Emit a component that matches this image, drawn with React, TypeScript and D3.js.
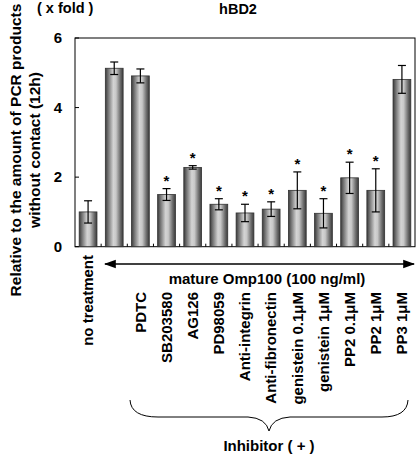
import React from "react";
import * as d3 from "d3";

const categories = [
  "no treatment", "", "PDTC", "SB203580", "AG126", "PD98059", "Anti-integrin",
  "Anti-fibronectin", "genistein 0.1μM", "genistein 1μM", "PP2 0.1μM", "PP2 1μM", "PP3 1μM",
];
const values = [1.0, 5.13, 4.91, 1.5, 2.28, 1.22, 0.97, 1.08, 1.62, 0.96, 1.98, 1.62, 4.81];
const errors = [0.32, 0.18, 0.2, 0.17, 0.05, 0.16, 0.25, 0.21, 0.53, 0.42, 0.45, 0.62, 0.4];
const significant = [false, false, false, true, true, true, true, true, true, true, true, true, false];
const yTicks = [0, 2, 4, 6];

const W = 417, H = 454;
const left = 75, right = 415, top = 38, bottom = 246.7;
const FONT = "Arial, 'Liberation Sans', Helvetica, sans-serif";

export default function App() {
  const x = d3.scaleBand<number>().domain(d3.range(values.length)).range([left, right]).paddingInner(0.32).paddingOuter(0.16);
  const band = d3.scaleBand<number>().domain(d3.range(values.length)).range([left, right]);
  const y = d3.scaleLinear().domain([0, 6]).range([bottom, top]);
  const bw = x.bandwidth();

  const bracePath = "M130,400 Q131,417 158,417 L248,417 Q266,418 269,431 Q272,418 290,417 L382,417 Q407,417 408,400";

  return (
    <svg width={W} height={H} style={{ position: "absolute", left: 0, top: 0, background: "#fff" }} fontFamily={FONT}>
      <defs>
        <linearGradient id="barGrad" x1="0" x2="1" y1="0" y2="0">
          <stop offset="0" stopColor="#3a3a3a" />
          <stop offset="0.15" stopColor="#707070" />
          <stop offset="0.45" stopColor="#d4d4d4" />
          <stop offset="0.6" stopColor="#c8c8c8" />
          <stop offset="0.85" stopColor="#6a6a6a" />
          <stop offset="1" stopColor="#3a3a3a" />
        </linearGradient>
        <marker id="arrow" viewBox="0 0 10 10" refX="9" refY="5" markerWidth="8" markerHeight="8" orient="auto-start-reverse">
          <path d="M0,1.5 L10,5 L0,8.5 Z" fill="#000" />
        </marker>
      </defs>

      {/* frame */}
      <rect x={left} y={top} width={right - left} height={bottom - top} fill="none" stroke="#000" strokeWidth={1} />
      {/* y ticks */}
      {yTicks.map((t) => (
        <g key={t}>
          <line x1={left} x2={left + 4} y1={y(t)} y2={y(t)} stroke="#000" />
          <text x={62} y={y(t)} dy="0.35em" textAnchor="end" fontSize={15} fontWeight="bold">{t}</text>
        </g>
      ))}
      {/* x ticks */}
      {d3.range(1, values.length).map((i) => (
        <line key={i} x1={band(i)!} x2={band(i)!} y1={bottom} y2={bottom - 3} stroke="#000" />
      ))}

      {/* bars */}
      {values.map((v, i) => (
        <g key={i}>
          <rect x={x(i)!} y={y(v)} width={bw} height={bottom - y(v)} fill="url(#barGrad)" stroke="#333" strokeWidth={0.8} />
          <line x1={x(i)! + bw / 2} x2={x(i)! + bw / 2} y1={y(v + errors[i])} y2={y(v - errors[i])} stroke="#000" strokeWidth={1.2} />
          <line x1={x(i)! + bw / 2 - 4} x2={x(i)! + bw / 2 + 4} y1={y(v + errors[i])} y2={y(v + errors[i])} stroke="#000" strokeWidth={1.2} />
          <line x1={x(i)! + bw / 2 - 4} x2={x(i)! + bw / 2 + 4} y1={y(v - errors[i])} y2={y(v - errors[i])} stroke="#000" strokeWidth={1.2} />
          {significant[i] && (
            <text x={x(i)! + bw / 2} y={y(v + errors[i]) - 3} textAnchor="middle" fontSize={15} fontWeight="bold">*</text>
          )}
        </g>
      ))}

      {/* titles */}
      <text x={238} y={14} textAnchor="middle" fontSize={14.5} fontWeight="bold">hBD2</text>
      <text x={37} y={13} fontSize={14.5} fontWeight="bold">( x fold )</text>
      <g transform="translate(16,150) rotate(-90)">
        <text x={0} y={0} dy="0.35em" textAnchor="middle" fontSize={15.5} fontWeight="bold">Relative to the amount of PCR products</text>
        <text x={0} y={19} dy="0.35em" textAnchor="middle" fontSize={15.5} fontWeight="bold">without contact (12h)</text>
      </g>

      {/* category labels */}
      {categories.map((c, i) =>
        c ? (
          <text key={i} transform={`translate(${band(i)! + band.bandwidth() / 2},${i === 0 ? 255 : 292}) rotate(-90)`} dy="0.35em" textAnchor="end" fontSize={15} fontWeight="bold">{c}</text>
        ) : null
      )}

      {/* arrow */}
      <line x1={105} x2={414} y1={264} y2={264} stroke="#000" strokeWidth={1.5} markerStart="url(#arrow)" markerEnd="url(#arrow)" />
      <text x={267} y={284} textAnchor="middle" fontSize={15} fontWeight="bold">mature Omp100 (100 ng/ml)</text>

      {/* brace */}
      <path d={bracePath} fill="none" stroke="#000" strokeWidth={1} />
      <text x={269} y={451} textAnchor="middle" fontSize={15} fontWeight="bold">Inhibitor ( + )</text>
    </svg>
  );
}
